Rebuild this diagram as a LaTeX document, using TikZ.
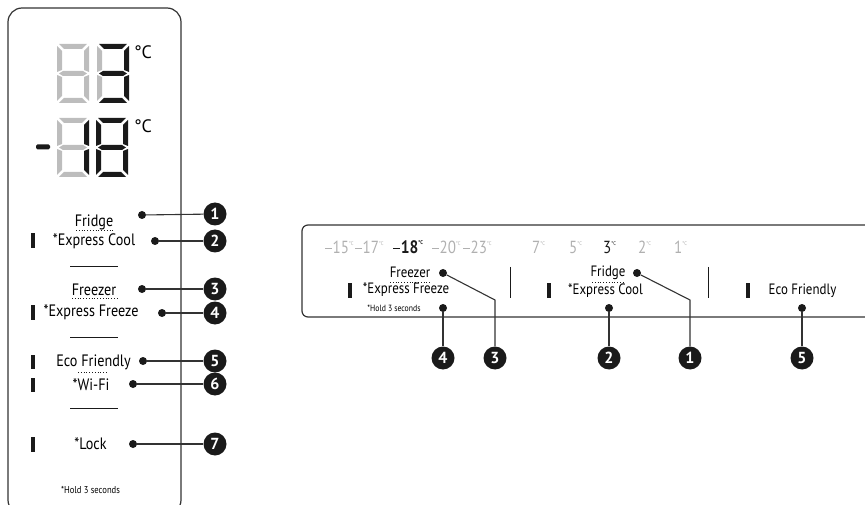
\documentclass[tikz,border=0pt]{standalone}
\usepackage{fontspec}
\setmainfont{PT Sans}[FakeStretch=0.86]
\newfontfamily\plainfont{PT Sans}
\definecolor{lcdgrey}{HTML}{BDBDBD}
\definecolor{lcdblack}{HTML}{1A1A1A}
\definecolor{linegrey}{HTML}{333333}
\definecolor{tempgrey}{HTML}{B0B0B0}
\newcommand\lcddigit[9]{%
  \begin{scope}[shift={(#1,#2)}]
    \fill[#3] (2,0) -- (30,0) -- (25,5) -- (7,5) -- cycle;
    \fill[#4] (32,2) -- (32,28) -- (27,26) -- (27,7) -- cycle;
    \fill[#5] (32,31) -- (32,57) -- (27,52) -- (27,33) -- cycle;
    \fill[#6] (2,59) -- (30,59) -- (25,54) -- (7,54) -- cycle;
    \fill[#7] (0,31) -- (0,57) -- (5,52) -- (5,33) -- cycle;
    \fill[#8] (0,2) -- (0,28) -- (5,26) -- (5,7) -- cycle;
    \fill[#9] (2,29.5) -- (6,27) -- (26,27) -- (30,29.5) -- (26,32) -- (6,32) -- cycle;
  \end{scope}}
\newcommand\degc{\raisebox{0.5em}{\fontsize{5.5}{5.5}\selectfont °C}}
\newcommand\tminus{\rule[0.26em]{0.38em}{0.075em}\kern0.04em}
\begin{document}
\begin{tikzpicture}[x=1pt,y=-1pt,
  lbl/.style={inner sep=0pt,font=\fontsize{16.5}{18}\selectfont},
  rlbl/.style={inner sep=0pt,font=\fontsize{15}{17}\selectfont},
  small/.style={inner sep=0pt,font=\fontsize{10}{12}\selectfont},
  tmp/.style={inner sep=0pt,anchor=base west,text=tempgrey,font=\fontsize{17.5}{20}\selectfont},
  dotn/.style={circle,fill=lcdblack,inner sep=0pt,minimum size=8pt},
  numc/.style={circle,fill=lcdblack,inner sep=0pt,minimum size=23pt,text=white,font=\plainfont\fontsize{16}{16}\selectfont\bfseries},
  conn/.style={draw=linegrey,line width=1.1pt},
  bar/.style={fill=lcdblack},
  sep/.style={draw=lcdblack,line width=0.9pt},
  uline/.style={draw=lcdblack,dotted,line width=0.8pt}]
\useasboundingbox (0,0) rectangle (865,505);
% left panel
\draw[linegrey,line width=1.2pt,rounded corners=14pt] (8,514) rectangle (181,8);
% LCD digits
\lcddigit{57}{44}{lcdgrey}{lcdgrey}{lcdgrey}{lcdgrey}{lcdgrey}{lcdgrey}{lcdgrey}
\lcddigit{97}{44}{lcdblack}{lcdblack}{lcdblack}{lcdblack}{lcdgrey}{lcdgrey}{lcdblack}
\node[inner sep=0pt,font=\plainfont\fontsize{18}{18}\selectfont] (degA) at (143,52) {°C};
\fill[lcdblack,rounded corners=1.5pt] (36,144.5) rectangle (50,149.5);
\lcddigit{57}{118}{lcdgrey}{lcdblack}{lcdblack}{lcdgrey}{lcdgrey}{lcdgrey}{lcdgrey}
\lcddigit{96}{118}{lcdblack}{lcdblack}{lcdblack}{lcdblack}{lcdblack}{lcdblack}{lcdblack}
\node[inner sep=0pt,font=\plainfont\fontsize{18}{18}\selectfont] (degB) at (143,126) {°C};
% left labels
\node[lbl] (lfridge) at (94,222) {Fridge};
\draw[uline] (76,230) -- (113,230);
\node[lbl] (lecool) at (94,241) {*Express Cool};
\fill[bar] (31,233) rectangle (35,248);
\draw[sep] (70,266) -- (118,266);
\node[lbl] (lfreezer) at (94,290) {Freezer};
\draw[uline] (72,298) -- (117,298);
\node[lbl] (lefreeze) at (91,312) {*Express Freeze};
\fill[bar] (31,305) rectangle (35,320);
\draw[sep] (70,337) -- (118,337);
\node[lbl] (leco) at (93.5,362) {Eco Friendly};
\fill[bar] (31,355) rectangle (35,369);
\draw[uline] (78,372) -- (108,372);
\node[lbl] (lwifi) at (91,385) {*Wi-Fi};
\fill[bar] (31,378) rectangle (35,392);
\draw[sep] (70,408) -- (118,408);
\node[lbl] (llock) at (90.5,444) {*Lock};
\fill[bar] (31,437) rectangle (35,452);
\node[small] (lhold) at (90.5,490) {*Hold 3 seconds};
% left dots and numbers
\node[dotn] (ld1) at (142,215) {};
\node[dotn] (ld2) at (155,241) {};
\node[dotn] (ld3) at (142,289) {};
\node[dotn] (ld4) at (162,313) {};
\node[dotn] (ld5) at (143,361) {};
\node[dotn] (ld6) at (133,384) {};
\node[dotn] (ld7) at (133,444) {};
\node[numc] (lc1) at (215,214) {1};
\node[numc] (lc2) at (215,241) {2};
\node[numc] (lc3) at (215,289) {3};
\node[numc] (lc4) at (215,313) {4};
\node[numc] (lc5) at (215,361) {5};
\node[numc] (lc6) at (215,384) {6};
\node[numc] (lc7) at (215,444) {7};
\foreach \i in {1,...,7} {\draw[conn] (ld\i) -- (lc\i);}
% right panel
\draw[linegrey,line width=1.2pt,rounded corners=6pt] (880,317) -- (302,317) -- (302,225) -- (880,225);
\node[tmp] (t15) at (325,254) {\tminus15\degc};
\node[tmp] (t17) at (355,254) {\tminus17\degc};
\node[tmp,text=lcdblack,font=\fontsize{18}{20}\selectfont\bfseries] (t18) at (393,254) {\tminus18\degc};
\node[tmp] (t20) at (432,254) {\tminus20\degc};
\node[tmp] (t23) at (463,254) {\tminus23\degc};
\node[tmp] (t7) at (532,254) {7\degc};
\node[tmp] (t5) at (569,254) {5\degc};
\node[tmp,text=lcdblack] (t3) at (603,254) {3\degc};
\node[tmp] (t2) at (638,254) {2\degc};
\node[tmp] (t1) at (674,254) {1\degc};
\node[rlbl] (rfreezer) at (410,272) {Freezer};
\draw[uline] (390,282) -- (430,282);
\node[rlbl] (refreeze) at (406,290) {*Express Freeze};
\fill[bar] (348,283) rectangle (352,298);
\node[small,font=\fontsize{9}{11}\selectfont] (rhold) at (394,308) {*Hold 3 seconds};
\draw[sep] (510,267) -- (510,298);
\node[rlbl] (rfridge) at (608,273) {Fridge};
\draw[uline] (592,282) -- (625,282);
\node[rlbl] (recool) at (605.5,291) {*Express Cool};
\fill[bar] (547,283) rectangle (551,298);
\draw[sep] (708,267) -- (708,298);
\node[rlbl] (reco) at (802.5,291) {Eco Friendly};
\fill[bar] (746,283) rectangle (750,298);
% right dots and numbers
\node[dotn] (rd3) at (443,273) {};
\node[dotn] (rd4) at (443,308) {};
\node[dotn] (rd1) at (637,273) {};
\node[dotn] (rd2) at (609,308) {};
\node[dotn] (rd5) at (802,308) {};
\coordinate (rb3) at (495,300);
\coordinate (rb1) at (690,300);
\node[numc] (rc4) at (443,358) {4};
\node[numc] (rc3) at (495,358) {3};
\node[numc] (rc2) at (609,358) {2};
\node[numc] (rc1) at (690,358) {1};
\node[numc] (rc5) at (802,358) {5};
\draw[conn] (rd3) -- (rb3) -- (rc3);
\draw[conn] (rd1) -- (rb1) -- (rc1);
\draw[conn] (rd4) -- (rc4);
\draw[conn] (rd2) -- (rc2);
\draw[conn] (rd5) -- (rc5);
\end{tikzpicture}
\end{document}
